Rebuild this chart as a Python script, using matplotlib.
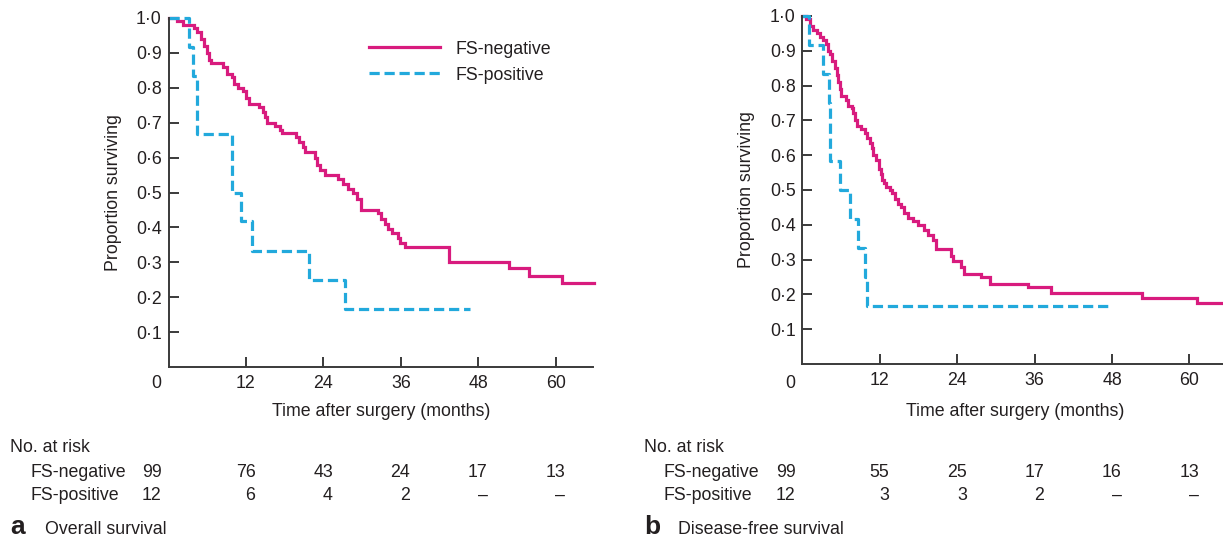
import matplotlib
matplotlib.use('Agg')
import matplotlib.pyplot as plt
from matplotlib.transforms import blended_transform_factory, ScaledTranslation

plt.rcParams['font.family'] = ['Liberation Sans', 'DejaVu Sans']

# ---------------- data ----------------
# Panel a: overall survival (step times in months, survival after each step)
os_neg_t = [0, 1.3, 2.2, 3.9, 4.4, 5.0, 5.5, 6.0, 6.2, 6.5,
            8.5, 9.0, 9.8, 10.2, 10.8, 11.5, 12.0, 12.5, 14.0, 14.6,
            15.0, 15.3, 16.5, 17.2, 17.6, 19.7, 20.2, 20.8, 21.2, 22.7,
            23.0, 23.5, 24.3, 26.2, 27.0, 27.8, 28.6, 29.2, 29.9, 32.5,
            33.0, 33.5, 34.0, 34.6, 35.6, 35.9, 36.6, 43.5, 52.7, 55.8,
            61.0, 66.0]
os_neg_s = [1.0, 0.99, 0.98, 0.97, 0.96, 0.94, 0.92, 0.90, 0.88, 0.87,
            0.86, 0.84, 0.83, 0.81, 0.80, 0.79, 0.77, 0.755, 0.745, 0.73,
            0.715, 0.70, 0.69, 0.68, 0.67, 0.66, 0.645, 0.63, 0.615, 0.60,
            0.58, 0.565, 0.55, 0.54, 0.525, 0.51, 0.50, 0.48, 0.45, 0.44,
            0.425, 0.41, 0.395, 0.385, 0.37, 0.355, 0.345, 0.30, 0.285, 0.26,
            0.24, 0.24]
os_pos_t = [0, 3.1, 3.8, 4.4, 9.8, 11.2, 12.9, 21.8, 27.3, 46.7]
os_pos_s = [1.0, 0.917, 0.833, 0.667, 0.5, 0.417, 0.333, 0.25, 0.167, 0.167]

# Panel b: disease-free survival
dfs_neg_t = [0, 0.6, 1.1, 1.65, 2.2, 2.7, 3.2, 3.7, 4.0, 4.3,
             4.6, 5.0, 5.3, 5.5, 5.8, 6.0, 6.8, 7.1, 7.6, 7.8,
             8.1, 8.4, 9.1, 9.7, 10.0, 10.4, 10.8, 11.0, 11.4, 11.9,
             12.1, 12.4, 12.7, 13.0, 13.6, 13.9, 14.3, 14.8, 15.3, 15.7,
             16.4, 17.1, 17.9, 18.9, 19.5, 20.2, 20.7, 23.1, 23.4, 24.6,
             25.0, 27.7, 29.0, 34.9, 38.6, 52.7, 61.1, 66.0]
dfs_neg_s = [1.0, 0.99, 0.97, 0.96, 0.95, 0.94, 0.93, 0.92, 0.90, 0.89,
             0.87, 0.85, 0.83, 0.81, 0.79, 0.77, 0.76, 0.74, 0.735, 0.72,
             0.70, 0.685, 0.675, 0.665, 0.65, 0.635, 0.62, 0.60, 0.585, 0.56,
             0.545, 0.53, 0.52, 0.51, 0.50, 0.49, 0.475, 0.46, 0.45, 0.435,
             0.42, 0.41, 0.40, 0.385, 0.37, 0.355, 0.33, 0.31, 0.295, 0.28,
             0.26, 0.25, 0.23, 0.22, 0.205, 0.19, 0.175, 0.175]
dfs_pos_t = [0, 1.0, 3.2, 4.1, 4.3, 5.8, 7.3, 8.6, 9.65, 10.0, 47.3]
dfs_pos_s = [1.0, 0.917, 0.833, 0.75, 0.583, 0.5, 0.417, 0.333, 0.25, 0.167, 0.167]

# Number at risk table
risk_times = [0, 12, 24, 36, 48, 60]
os_risk_neg = ['99', '76', '43', '24', '17', '13']
os_risk_pos = ['12', '6', '4', '2', '–', '–']
dfs_risk_neg = ['99', '55', '25', '17', '16', '13']
dfs_risk_pos = ['12', '3', '3', '2', '–', '–']

x_ticks = [12, 24, 36, 48, 60]
y_ticks = [0.1, 0.2, 0.3, 0.4, 0.5, 0.6, 0.7, 0.8, 0.9, 1.0]
y_ticklabels = ['0·1', '0·2', '0·3', '0·4', '0·5', '0·6', '0·7', '0·8', '0·9', '1·0']
series_labels = ['FS-negative', 'FS-positive']
panel_titles = ['Overall survival', 'Disease-free survival']
panel_letters = ['a', 'b']

# ---------------- styling ----------------
W, H = 1223, 539
DPI = 100
FS = 12.8
TXT = '#231f20'
AX_C = '#3a3a3a'
PINK = '#d81b7e'
CYAN = '#22a9dc'
LW = 2.3

fig = plt.figure(figsize=(W / DPI, H / DPI), dpi=DPI)


def px_off(dx, dy=0):
    return ScaledTranslation(dx / DPI, dy / DPI, fig.dpi_scale_trans)


def make_panel(left_px, top_px, bottom_px, neg_t, neg_s, pos_t, pos_s,
               risk_neg, risk_pos, letter, title, legend=False):
    width_px = 424.4
    ax = fig.add_axes([left_px / W, 1 - bottom_px / H, width_px / W,
                       (bottom_px - top_px) / H])
    ax.step(neg_t, neg_s, where='post', color=PINK, lw=LW,
            solid_joinstyle='miter', clip_on=False, label=series_labels[0])
    ax.step(pos_t, pos_s, where='post', color=CYAN, lw=LW,
            dashes=(3.2, 1.5), clip_on=False, label=series_labels[1])
    ax.set_xlim(0, 65.8)
    ax.set_ylim(0, 1.0)
    for s in ['top', 'right']:
        ax.spines[s].set_visible(False)
    for s in ['left', 'bottom']:
        ax.spines[s].set_linewidth(1.4)
        ax.spines[s].set_color(AX_C)
    ax.set_xticks(x_ticks)
    ax.set_xticklabels([str(t) for t in x_ticks])
    ax.set_yticks(y_ticks)
    ax.set_yticklabels(y_ticklabels)
    ax.tick_params(axis='x', direction='in', length=7, width=1.4,
                   color=AX_C, pad=6, labelsize=FS, labelcolor=TXT)
    ax.tick_params(axis='y', direction='in', length=7.5, width=1.4,
                   color=AX_C, pad=5, labelsize=FS, labelcolor=TXT)
    # "0" at the origin corner
    tr0 = blended_transform_factory(ax.transData, fig.transFigure)
    ax.text(0, 1 - 383 / H, '0', transform=tr0 + px_off(-12), ha='center',
            va='center', fontsize=FS, color=TXT)
    ax.set_xlabel('Time after surgery (months)', fontsize=FS, color=TXT,
                  va='center')
    ax.xaxis.set_label_coords(0.5, -(411 - bottom_px) / (bottom_px - top_px))
    ax.set_ylabel('Proportion surviving', fontsize=FS, color=TXT, va='center')
    ax.yaxis.set_label_coords(-55.5 / width_px, 0.5)

    if legend:
        ax.legend(loc='upper left', bbox_to_anchor=(0.472, 0.935),
                  frameon=False, handlelength=4.0, handletextpad=0.85,
                  labelspacing=0.5, borderpad=0, borderaxespad=0,
                  fontsize=FS, labelcolor=TXT)

    # number at risk table
    fig.text((left_px - 158.6) / W, 1 - 447.5 / H, 'No. at risk', ha='left',
             va='center', fontsize=FS, color=TXT)
    for row_y, lab, vals in [(472.5, series_labels[0], risk_neg),
                             (495.5, series_labels[1], risk_pos)]:
        fig.text((left_px - 138.6) / W, 1 - row_y / H, lab, ha='left',
                 va='center', fontsize=FS, color=TXT)
        for t, v in zip(risk_times, vals):
            dx = -7 if t == 0 else 9.5
            ax.text(t, 1 - row_y / H, v, transform=tr0 + px_off(dx),
                    ha='right', va='center', fontsize=FS, color=TXT)
    # panel letter and title
    fig.text((left_px - 158.6) / W, 1 - 538.5 / H, letter, ha='left',
             va='bottom', fontsize=19, fontweight='bold', color=TXT)
    fig.text((left_px - 124) / W, 1 - 538.5 / H, title, ha='left',
             va='bottom', fontsize=FS, color=TXT)
    return ax


make_panel(168.6, 18, 367, os_neg_t, os_neg_s, os_pos_t, os_pos_s,
           os_risk_neg, os_risk_pos, panel_letters[0], panel_titles[0],
           legend=True)
make_panel(802.5, 16, 364, dfs_neg_t, dfs_neg_s, dfs_pos_t, dfs_pos_s,
           dfs_risk_neg, dfs_risk_pos, panel_letters[1], panel_titles[1])

fig.savefig('out.png', dpi=DPI, facecolor='white')
